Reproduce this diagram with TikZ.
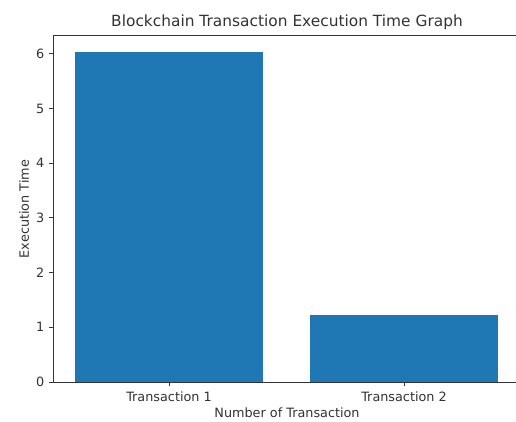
\documentclass[tikz,border=0pt]{standalone}
\usepackage{fontspec}
\setmainfont{DejaVu Sans}
\usepackage{tikz}
\usetikzlibrary{positioning}

\definecolor{barblue}{HTML}{1F77B4}
\definecolor{inkgray}{HTML}{333333}

\begin{document}
\begin{tikzpicture}[
    x=1pt, y=1pt,
    spine/.style={draw=inkgray, line width=0.9pt},
    tick/.style={draw=inkgray, line width=0.9pt},
    bar/.style={fill=barblue, draw=none},
    ticklabel/.style={font=\fontsize{12.8}{15}\selectfont, text=inkgray, inner sep=0pt},
    axlabel/.style={font=\fontsize{12.8}{15}\selectfont, text=inkgray, inner sep=0pt},
    title/.style={font=\fontsize{15.4}{18}\selectfont, text=inkgray, inner sep=0pt}
]
    \useasboundingbox[fill=white] (0,0) rectangle (516,421);

    % axes corners
    \coordinate (o) at (53,39);
    \coordinate (ul) at (53,386);
    \coordinate (ur) at (521,386);
    \coordinate (lr) at (521,39);

    % bars
    \fill[bar] (75,39) rectangle (263,369);
    \fill[bar] (310,39) rectangle (498,106);

    % frame (right spine lies beyond the page)
    \draw[spine] (ur) -- (ul) -- (o) -- (lr);

    % y ticks
    \foreach \k in {0,...,6} {
        \draw[tick] (53,39+54.7*\k) -- ++(-4,0);
        \node[ticklabel, anchor=east] (y\k) at (44.5,39+54.7*\k) {\k};
    }

    % x ticks
    \draw[tick] (169,39) -- ++(0,-4);
    \draw[tick] (404,39) -- ++(0,-4);
    \node[ticklabel] (t1) at (169,24) {Transaction 1};
    \node[ticklabel] (t2) at (404,24) {Transaction 2};

    % labels
    \node[axlabel] (xlab) at (287,8) {Number of Transaction};
    \node[axlabel, rotate=90] (ylab) at (24,212) {Execution Time};
    \node[title] (ttl) at (287,399) {Blockchain Transaction Execution Time Graph};
\end{tikzpicture}
\end{document}
